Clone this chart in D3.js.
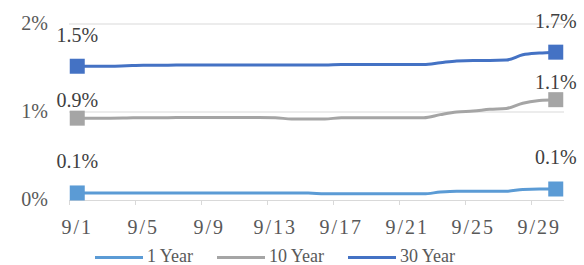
<!DOCTYPE html>
<html>
<head>
<meta charset="utf-8">
<script src="https://cdn.jsdelivr.net/npm/d3@7"></script>
<style>
  body { margin: 0; background: #fff; }
  text { font-family: "Liberation Serif", "DejaVu Serif", serif; }
</style>
</head>
<body>
<div id="chart"></div>
<script>
// day-of-month categories, September
const days = d3.range(1, 31).map(d => '9/' + d);
const tickDays = ['9/1', '9/5', '9/9', '9/13', '9/17', '9/21', '9/25', '9/29'];
const yTicks = [0, 0.01, 0.02];

const oneYear = [0.0008, 0.0008, 0.0008, 0.0008, 0.0008, 0.0008, 0.0008, 0.0008, 0.0008, 0.0008,
  0.0008, 0.0008, 0.0008, 0.0008, 0.0008, 0.0007, 0.0007, 0.0007, 0.0007, 0.0007,
  0.0007, 0.0007, 0.0009, 0.001, 0.001, 0.001, 0.001, 0.0012, 0.00125, 0.00125];
const tenYear = [0.0093, 0.0093, 0.0093, 0.00932, 0.00935, 0.00935, 0.00937, 0.00937, 0.00937, 0.00937,
  0.00937, 0.00937, 0.00935, 0.0092, 0.0092, 0.0092, 0.00935, 0.00935, 0.00935, 0.00935,
  0.00935, 0.00935, 0.0097, 0.01, 0.0101, 0.0103, 0.0104, 0.011, 0.0113, 0.0114];
const thirtyYear = [0.0152, 0.0152, 0.0152, 0.01525, 0.0153, 0.0153, 0.01535, 0.01535, 0.01535, 0.01535,
  0.01535, 0.01535, 0.01535, 0.01535, 0.01535, 0.01535, 0.0154, 0.0154, 0.0154, 0.0154,
  0.0154, 0.0154, 0.0156, 0.0158, 0.01585, 0.01585, 0.0159, 0.0165, 0.0167, 0.0168];

const series = [
  { name: '1 Year', values: oneYear, color: '#5B9BD5', dy: -32 },
  { name: '10 Year', values: tenYear, color: '#A5A5A5', dy: -18 },
  { name: '30 Year', values: thirtyYear, color: '#4472C4', dy: -31 }
];

const width = 584, height = 265;
const svg = d3.select('#chart').append('svg')
  .attr('width', width)
  .attr('height', height);

const x = d3.scaleBand().domain(days).range([69, 564]).padding(0);
const y = d3.scaleLinear().domain([0, 0.02]).range([200, 24]);
const cx = d => x(d) + x.bandwidth() / 2;

// gridlines
svg.append('g')
  .selectAll('line')
  .data(yTicks.filter(t => t > 0))
  .enter().append('line')
  .attr('x1', 69).attr('x2', 564)
  .attr('y1', d => y(d)).attr('y2', d => y(d))
  .attr('stroke', '#D9D9D9').attr('stroke-width', 1);

// y labels
svg.append('g')
  .selectAll('text')
  .data(yTicks)
  .enter().append('text')
  .attr('x', 48)
  .attr('y', d => y(d) + 6)
  .attr('text-anchor', 'end')
  .attr('fill', '#595959')
  .style('font-size', '20px')
  .text(d => d3.format('.0%')(d));

// x axis line + ticks
const xa = svg.append('g');
xa.append('line')
  .attr('x1', 69).attr('x2', 564)
  .attr('y1', y(0) + 0.5).attr('y2', y(0) + 0.5)
  .attr('stroke', '#D9D9D9').attr('stroke-width', 1);
xa.selectAll('.tk')
  .data(tickDays)
  .enter().append('line')
  .attr('x1', d => x(d) + 0.5).attr('x2', d => x(d) + 0.5)
  .attr('y1', y(0)).attr('y2', y(0) + 5)
  .attr('stroke', '#D9D9D9');
xa.selectAll('text')
  .data(tickDays)
  .enter().append('text')
  .attr('x', d => cx(d))
  .attr('y', 234)
  .attr('text-anchor', 'middle')
  .attr('fill', '#595959')
  .style('font-size', '20px')
  .style('letter-spacing', '2px')
  .text(d => d);

const line = d3.line()
  .x((d, i) => cx(days[i]))
  .y(d => y(d))
  .curve(d3.curveMonotoneX);

series.forEach(s => {
  svg.append('path')
    .datum(s.values)
    .attr('fill', 'none')
    .attr('stroke', s.color)
    .attr('stroke-width', 3)
    .attr('d', line);

  const ends = [0, s.values.length - 1];
  svg.selectAll(null)
    .data(ends)
    .enter().append('rect')
    .attr('x', i => cx(days[i]) - 7.5)
    .attr('y', i => y(s.values[i]) - 7.5)
    .attr('width', 15).attr('height', 15)
    .attr('fill', s.color);

  svg.selectAll(null)
    .data(ends)
    .enter().append('text')
    .attr('x', i => cx(days[i]))
    .attr('y', i => y(s.values[i]) + s.dy + 7)
    .attr('text-anchor', 'middle')
    .attr('fill', '#404040')
    .style('font-size', '20px')
    .text(i => d3.format('.1%')(s.values[i]));
});

// legend
const legendX = [95, 217, 348];
const lg = svg.append('g');
series.forEach((s, i) => {
  lg.append('line')
    .attr('x1', legendX[i]).attr('x2', legendX[i] + 48)
    .attr('y1', 257.5).attr('y2', 257.5)
    .attr('stroke', s.color).attr('stroke-width', 3);
  lg.append('text')
    .attr('x', legendX[i] + 52)
    .attr('y', 262)
    .attr('fill', '#595959')
    .style('font-size', '18px')
    .text(s.name);
});
</script>
</body>
</html>
